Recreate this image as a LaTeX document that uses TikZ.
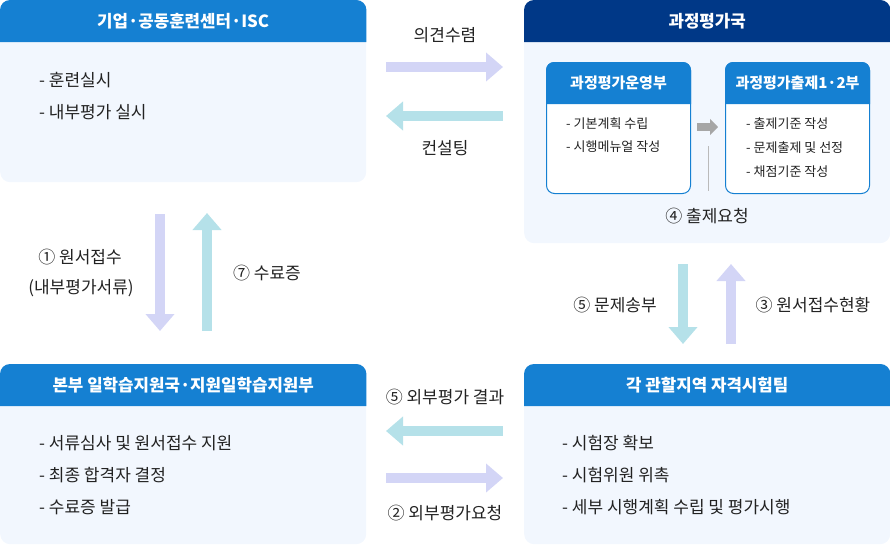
\documentclass[tikz,border=0pt]{standalone}
\usepackage{fontspec}
\setmainfont{Noto Sans CJK KR}
\usetikzlibrary{calc,positioning,arrows.meta}

\definecolor{hdblue}{HTML}{1580D2}
\definecolor{hdnavy}{HTML}{003887}
\definecolor{bodyfill}{HTML}{F2F7FE}
\definecolor{lav}{HTML}{D3D5F6}
\definecolor{aqua}{HTML}{B5E1E9}
\definecolor{txt}{HTML}{222222}

\tikzset{
  panel/.style={fill=bodyfill,rounded corners=10pt,anchor=north west,inner sep=0pt},
  innerpanel/.style={fill=white,draw=hdblue,line width=1pt,rounded corners=8pt,anchor=north west,inner sep=0pt},
  headtext/.style={text=white,font=\bfseries\fontsize{16.8}{19}\selectfont},
  smallhead/.style={text=white,font=\bfseries\fontsize{15}{17}\selectfont},
  itemtext/.style={anchor=west,text=txt,inner sep=0pt,font=\fontsize{17}{19}\selectfont},
  smallitem/.style={anchor=west,text=txt,inner sep=0pt,font=\fontsize{13}{15}\selectfont},
  lbl/.style={text=txt,inner sep=0pt,font=\fontsize{17}{19}\selectfont},
  fatlav/.style={draw=lav,line width=10pt,-{Triangle[width=28pt,length=17pt]}},
  fatcyan/.style={draw=aqua,line width=10pt,-{Triangle[width=28pt,length=17pt]}}
}

\begin{document}
\begin{tikzpicture}[x=1pt,y=-1pt]
  \useasboundingbox (0,0) rectangle (890,546);

  % outer boxes
  \node[panel,minimum width=366pt,minimum height=182pt] (isc) at (0,0) {};
  \node[panel,minimum width=366pt,minimum height=243pt] (bureau) at (524,0) {};
  \node[panel,minimum width=366pt,minimum height=180pt] (hq) at (0,364) {};
  \node[panel,minimum width=366pt,minimum height=180pt] (team) at (524,364) {};

  % headers
  \foreach \b in {isc,hq,team}{
    \fill[hdblue] ([yshift=-42pt]\b.north west) [rounded corners=10pt] -- (\b.north west)
      -- (\b.north east) [sharp corners] -- ([yshift=-42pt]\b.north east) -- cycle;
  }
  \fill[hdnavy] ([yshift=-42pt]bureau.north west) [rounded corners=10pt] -- (bureau.north west)
    -- (bureau.north east) [sharp corners] -- ([yshift=-42pt]bureau.north east) -- cycle;

  \node[headtext] at ([yshift=-21pt]isc.north) {기업·공동훈련센터·ISC};
  \node[headtext] at ([yshift=-21pt]bureau.north) {과정평가국};
  \node[headtext] at ([yshift=-21pt]hq.north) {본부 일학습지원국·지원일학습지원부};
  \node[headtext] at ([yshift=-21pt]team.north) {각 관할지역 자격시험팀};

  % inner boxes
  \node[innerpanel,minimum width=144pt,minimum height=131pt] (ops) at (546,62) {};
  \node[innerpanel,minimum width=144pt,minimum height=131pt] (exam) at (725,62) {};
  \foreach \b in {ops,exam}{
    \fill[hdblue] ([yshift=-42pt]\b.north west) [rounded corners=8pt] -- (\b.north west)
      -- (\b.north east) [sharp corners] -- ([yshift=-42pt]\b.north east) -- cycle;
  }
  \node[smallhead] at ([yshift=-21pt]ops.north) {과정평가운영부};
  \node[smallhead] at ([yshift=-21pt]exam.north) {과정평가출제1·2부};

  \node[smallitem] at (566,124) {- 기본계획 수립};
  \node[smallitem] at (566,147) {- 시행메뉴얼 작성};
  \node[smallitem] at (746,124) {- 출제기준 작성};
  \node[smallitem] at (746,148) {- 문제출제 및 선정};
  \node[smallitem] at (746,172) {- 채점기준 작성};

  \coordinate (g1) at (697,127);
  \coordinate (g2) at (718,127);
  \draw[draw=black!35,line width=8pt,-{Triangle[width=16pt,length=8pt]}] (g1) -- (g2);
  \coordinate (v1) at (708,146);
  \coordinate (v2) at (708,191);
  \draw[black!27,line width=1pt] (v1) -- (v2);
  \node[lbl] at (707,216) {④ 출제요청};

  % lists
  \node[itemtext] at (39,80) {- 훈련실시};
  \node[itemtext] at (39,112) {- 내부평가 실시};
  \node[itemtext] at (39,443) {- 서류심사 및 원서접수 지원};
  \node[itemtext] at (39,475) {- 최종 합격자 결정};
  \node[itemtext] at (39,507) {- 수료증 발급};
  \node[itemtext] at (562,443) {- 시험장 확보};
  \node[itemtext] at (562,475) {- 시험위원 위촉};
  \node[itemtext] at (562,507) {- 세부 시행계획 수립 및 평가시행};

  % flow arrows
  \coordinate (a1) at (386,67);  \coordinate (b1) at (503,67);
  \coordinate (a2) at (503,116); \coordinate (b2) at (386,116);
  \coordinate (a3) at (160,214); \coordinate (b3) at (160,331);
  \coordinate (a4) at (207,331); \coordinate (b4) at (207,213);
  \coordinate (a5) at (683,264); \coordinate (b5) at (683,344);
  \coordinate (a6) at (731,344); \coordinate (b6) at (731,264);
  \coordinate (a7) at (503,431); \coordinate (b7) at (386,431);
  \coordinate (a8) at (386,478); \coordinate (b8) at (503,478);
  \draw[fatlav] (a1) -- (b1);
  \draw[fatcyan] (a2) -- (b2);
  \draw[fatlav] (a3) -- (b3);
  \draw[fatcyan] (a4) -- (b4);
  \draw[fatcyan] (a5) -- (b5);
  \draw[fatlav] (a6) -- (b6);
  \draw[fatcyan] (a7) -- (b7);
  \draw[fatlav] (a8) -- (b8);

  % labels
  \node[lbl] at (445,35) {의견수렴};
  \node[lbl] at (445,148) {컨설팅};
  \node[lbl] at (80,257) {① 원서접수};
  \node[lbl] at (81,288) {(내부평가서류)};
  \node[lbl] at (267,273) {⑦ 수료증};
  \node[lbl] at (615,305) {⑤ 문제송부};
  \node[lbl] at (813,305) {③ 원서접수현황};
  \node[lbl] at (445,397) {⑤ 외부평가 결과};
  \node[lbl] at (445,513) {② 외부평가요청};
\end{tikzpicture}
\end{document}
